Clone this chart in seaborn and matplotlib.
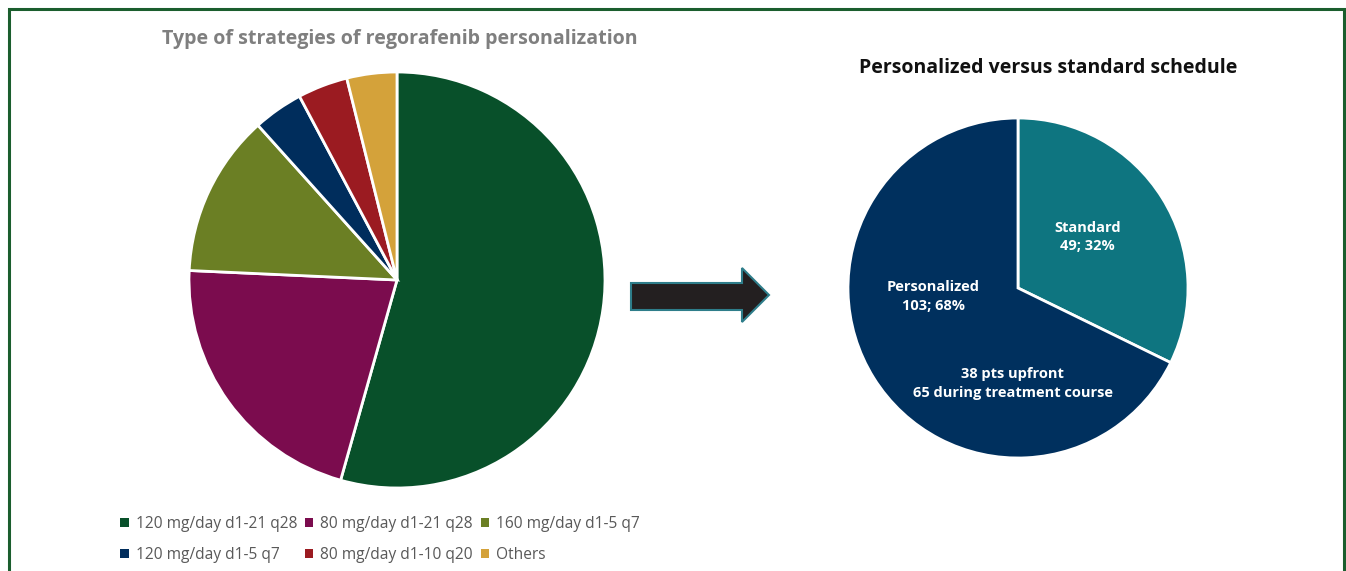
import matplotlib
matplotlib.use("Agg")
import matplotlib.pyplot as plt
from matplotlib.patches import Rectangle, Polygon
import seaborn as sns

# ---- data ----
strategy_labels = ["120 mg/day d1-21 q28", "80 mg/day d1-21 q28", "160 mg/day d1-5 q7",
                   "120 mg/day d1-5 q7", "80 mg/day d1-10 q20", "Others"]
strategy_counts = [56, 22, 13, 4, 4, 4]
strategy_colors = ["#08502A", "#7B0C4E", "#6B7F24", "#002D5C", "#9B1B21", "#D4A23A"]

schedule_labels = ["Standard", "Personalized"]
schedule_counts = [49, 103]
schedule_pcts = [32, 68]
schedule_colors = ["#0E7580", "#00305E"]
personalized_note = ["38 pts upfront", "65 during treatment course"]

left_title = "Type of strategies of regorafenib personalization"
right_title = "Personalized versus standard schedule"

sns.set_theme(style="white")
plt.rcParams['font.family'] = ['Open Sans', 'DejaVu Sans']

W, H = 1346, 571
fig = plt.figure(figsize=(W / 100, H / 100), dpi=100)
fig.patch.set_facecolor("white")

def px_axes(cx, cy, r):
    return fig.add_axes([(cx - r) / W, 1 - (cy + r) / H, 2 * r / W, 2 * r / H])

# frame
fig.add_artist(Rectangle((9 / W, -0.1), (1344 - 9) / W, 1.1 - 9 / H,
                         transform=fig.transFigure, fill=False,
                         edgecolor="#1B5E2E", linewidth=2.2))

# ---- left pie ----
axL = px_axes(397, 280, 208)
wedgesL, _ = axL.pie(strategy_counts, colors=sns.color_palette(strategy_colors),
                     startangle=90, counterclock=False, radius=1,
                     wedgeprops=dict(edgecolor="white", linewidth=2))
axL.set_xlim(-1, 1); axL.set_ylim(-1, 1); axL.set_aspect("equal")
axL.axis("off")

fig.text(400 / W, 1 - 39 / H, left_title, ha="center", va="center",
         fontsize=14.1, fontweight="bold", color="#7F7F7F")

order = [0, 3, 1, 4, 2, 5]
leg = fig.legend([wedgesL[i] for i in order], [strategy_labels[i] for i in order],
                 ncol=3, loc="upper left", bbox_to_anchor=(106 / W, 1 - 502 / H),
                 frameon=False, fontsize=11.2, handlelength=0.55, handleheight=0.55,
                 handletextpad=0.45, columnspacing=0.5, labelspacing=0.95,
                 labelcolor="#595959")
for h in leg.legend_handles:
    h.set_edgecolor("none")

# ---- arrow ----
arrow_pts = [(631, 283), (742, 283), (742, 268), (769, 295), (742, 322), (742, 310), (631, 310)]
fig.add_artist(Polygon([(x / W, 1 - y / H) for x, y in arrow_pts], closed=True,
                       transform=fig.transFigure, facecolor="#231F20",
                       edgecolor="#2E7D8A", linewidth=1.5))

# ---- right pie ----
axR = px_axes(1018, 288, 170)
axR.pie(schedule_counts, colors=sns.color_palette(schedule_colors),
        startangle=90, counterclock=False, radius=1,
        wedgeprops=dict(edgecolor="white", linewidth=2))
axR.set_xlim(-1, 1); axR.set_ylim(-1, 1); axR.set_aspect("equal")
axR.axis("off")

lab_kw = dict(ha="center", va="center", color="white", fontsize=10.5,
              fontweight="bold", linespacing=1.45)
axR.text(0.41, 0.30, f"{schedule_labels[0]}\n{schedule_counts[0]}; {schedule_pcts[0]}%", **lab_kw)
axR.text(-0.50, -0.05, f"{schedule_labels[1]}\n{schedule_counts[1]}; {schedule_pcts[1]}%", **lab_kw)
axR.text(-0.03, -0.56, "\n".join(personalized_note), **lab_kw)

fig.text(1048 / W, 1 - 68 / H, right_title, ha="center", va="center",
         fontsize=14, fontweight="bold", color="#111111")

fig.savefig("out.png", dpi=100, facecolor="white")
